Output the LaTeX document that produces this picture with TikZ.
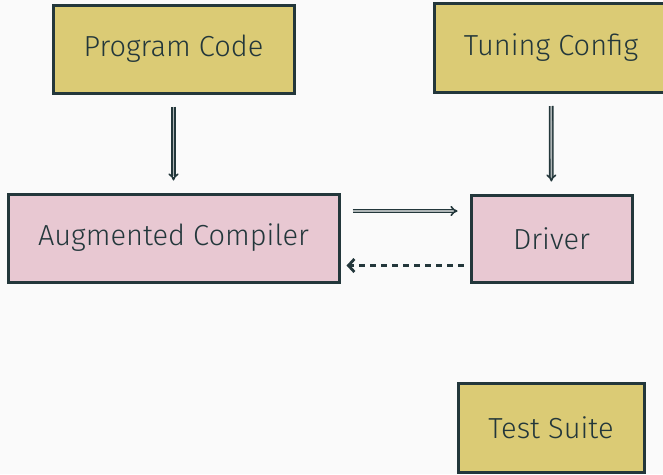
\documentclass[tikz,border=0pt]{standalone}
\usepackage{fontspec}
\setmainfont{Fira Sans Light}
\usetikzlibrary{arrows.meta, positioning}
\definecolor{DarkTeal}{HTML}{23373B}
\definecolor{SandFill}{HTML}{DBCB75}
\definecolor{RoseFill}{HTML}{E8C8D2}
\definecolor{PageBg}{HTML}{FAFAFA}

\begin{document}
\begin{tikzpicture}[
    x=1pt, y=1pt,
    box/.style={draw=DarkTeal, line width=3pt, text=DarkTeal,
        font=\fontsize{29}{34}\selectfont, inner sep=0pt},
    input/.style={box, fill=SandFill},
    stage/.style={box, fill=RoseFill},
    feed/.style={draw=DarkTeal, line width=1.6pt, double=DarkTeal!35!PageBg,
        double distance=1.6pt, -{Implies}, shorten <=12pt, shorten >=12pt},
    back/.style={draw=DarkTeal, line width=2.8pt, dash pattern=on 6pt off 5pt,
        -{Straight Barb[length=6pt, width=13pt]}, shorten <=6pt, shorten >=6pt}
]
% page
\fill[PageBg] (0,0) rectangle (663,-474);
\useasboundingbox (0,0) rectangle (663,-474);

% inputs
\node[input, minimum width=241pt, minimum height=88pt] (code) at (173.5,-49) {Program Code};
\node[input, minimum width=234pt, minimum height=89pt] (config) at (551,-48) {Tuning Config};

% compile / run
\node[stage, minimum width=331pt, minimum height=88pt] (compiler) at (173.5,-238) {Augmented Compiler};
\node[stage, minimum width=161pt, minimum height=87pt] (driver) at (551.5,-238.5) {Driver};

% tests
\node[input, minimum width=186pt, minimum height=89pt] (tests) at (551,-427.5) {Test Suite};

% connections
\draw[feed] (code) -- (compiler);
\draw[feed] (config) -- (driver);
\draw[feed] ([yshift=27pt]compiler.east) -- ([yshift=27pt]compiler.east -| driver.west);
\draw[back] ([yshift=-27pt]driver.west) -- ([yshift=-27pt]driver.west -| compiler.east);
\end{tikzpicture}
\end{document}
